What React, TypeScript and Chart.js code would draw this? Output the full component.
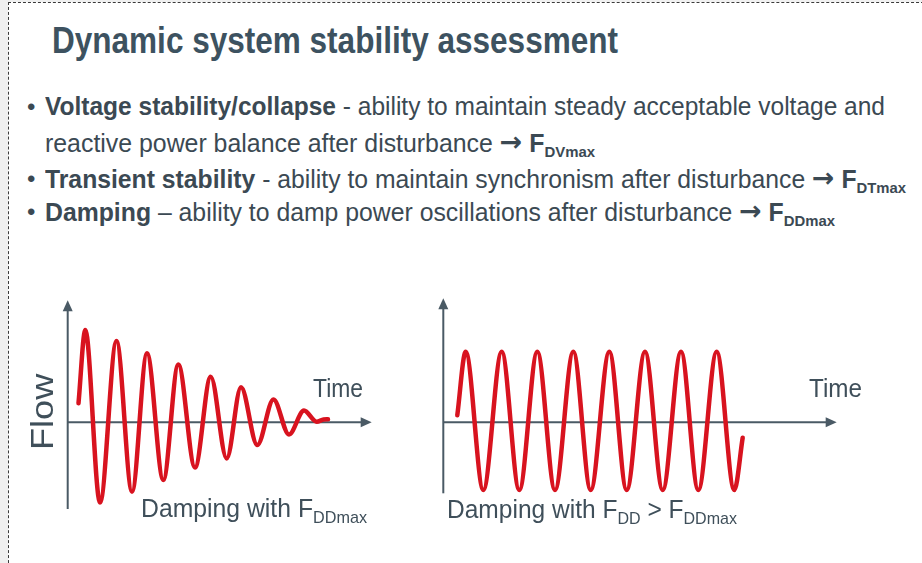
import React, { useEffect, useLayoutEffect, useRef } from 'react';
import { Chart, registerables } from 'chart.js';

Chart.register(...registerables);

// ---- Data (time units, flow units; flow 0 on the time axis) ----
// Left plot: damped oscillation ("Damping with F_DDmax")
const dampedTime = [10.8, 17.6, 32.3, 48.8, 64.3, 79.3, 95.6, 110.6, 127.3, 143, 159, 173.3, 189.6, 205.8, 221.3, 236.3, 249, 255.8, 260.3];
const dampedFlow = [19, 92.3, -80.2, 81.3, -69.4, 69, -57.7, 57.8, -45.2, 45.6, -36.2, 35, -22.7, 22.8, -12.2, 11.8, 0.6, 2.8, 3];

// Right plot: sustained oscillation ("Damping with F_DD > F_DDmax")
const sustainedTime = [14, 22.4, 40, 58.4, 76, 94, 111.7, 130, 147.4, 166, 183.4, 201.7, 219.4, 237.7, 255, 273.4, 291, 299.4];
const sustainedFlow = [7, 70.6, -67.7, 70.6, -67.7, 70.6, -67.7, 70.6, -67.7, 70.6, -67.7, 70.6, -67.7, 70.6, -67.7, 70.6, -67.7, -15.4];

// ---- Texts ----
const titleText = 'Dynamic system stability assessment';
const yAxisLabel = 'Flow';
const xAxisLabel = 'Time';

const FONT = '"Liberation Sans", Arial, Helvetica, sans-serif';
const TITLE_COLOR = '#3d5260';
const TEXT_COLOR = '#3b4953';
const LABEL_COLOR = '#3f4f5a';
const AXIS_COLOR = '#4a5a65';
const CURVE_COLOR = '#d8131f';

const arrowAxes = {
  id: 'arrowAxes',
  beforeDatasetsDraw(chart: any, _args: any, opts: any) {
    const { ctx } = chart;
    const xs = chart.scales.x;
    const ys = chart.scales.y;
    const x0 = xs.getPixelForValue(0);
    const y0 = ys.getPixelForValue(0);
    const xEnd = xs.getPixelForValue(opts.xEnd);
    const yTop = ys.getPixelForValue(opts.yTop);
    const yBot = ys.getPixelForValue(opts.yBottom);
    ctx.save();
    ctx.strokeStyle = opts.color;
    ctx.fillStyle = opts.color;
    ctx.lineWidth = 2;
    ctx.beginPath();
    ctx.moveTo(x0, yBot);
    ctx.lineTo(x0, yTop + 9);
    ctx.stroke();
    ctx.beginPath();
    ctx.moveTo(x0, y0);
    ctx.lineTo(xEnd - 9, y0);
    ctx.stroke();
    ctx.beginPath();
    ctx.moveTo(x0, yTop);
    ctx.lineTo(x0 - 5, yTop + 11);
    ctx.lineTo(x0 + 5, yTop + 11);
    ctx.closePath();
    ctx.fill();
    ctx.beginPath();
    ctx.moveTo(xEnd, y0);
    ctx.lineTo(xEnd - 11, y0 - 5);
    ctx.lineTo(xEnd - 11, y0 + 5);
    ctx.closePath();
    ctx.fill();
    ctx.restore();
  },
};

type OscProps = {
  left: number; top: number; width: number; height: number;
  xMin: number; xMax: number; yMin: number; yMax: number;
  time: number[]; flow: number[];
  xEnd: number; yTop: number; yBottom: number;
};

function OscChart(p: OscProps) {
  const ref = useRef<HTMLCanvasElement>(null);
  useEffect(() => {
    if (!ref.current) return;
    const chart = new Chart(ref.current, {
      type: 'line',
      data: {
        datasets: [
          {
            data: p.time.map((t, i) => ({ x: t, y: p.flow[i] })),
            borderColor: CURVE_COLOR,
            borderWidth: 4.5,
            pointRadius: 0,
            cubicInterpolationMode: 'monotone',
            borderCapStyle: 'round',
            borderJoinStyle: 'round',
            fill: false,
            clip: false,
          } as any,
        ],
      },
      options: {
        animation: false,
        responsive: false,
        maintainAspectRatio: false,
        layout: { padding: 0 },
        events: [],
        scales: {
          x: { type: 'linear', min: p.xMin, max: p.xMax, display: false },
          y: { type: 'linear', min: p.yMin, max: p.yMax, display: false },
        },
        plugins: {
          legend: { display: false },
          tooltip: { enabled: false },
          title: { display: false },
          arrowAxes: { xEnd: p.xEnd, yTop: p.yTop, yBottom: p.yBottom, color: AXIS_COLOR },
        } as any,
      },
      plugins: [arrowAxes],
    });
    return () => chart.destroy();
  }, []);
  return (
    <canvas
      ref={ref}
      width={p.width}
      height={p.height}
      style={{ position: 'absolute', left: p.left, top: p.top, width: p.width, height: p.height }}
    />
  );
}

type FitProps = {
  x: number; baseline: number; width: number; size: number;
  weight?: number | string; color: string; children: React.ReactNode;
};

function FitText({ x, baseline, width, size, weight = 400, color, children }: FitProps) {
  const ref = useRef<HTMLDivElement>(null);
  useLayoutEffect(() => {
    const el = ref.current;
    if (!el) return;
    const fit = () => {
      el.style.transform = 'none';
      const w = el.getBoundingClientRect().width;
      if (w > 0) el.style.transform = `scaleX(${width / w})`;
    };
    fit();
    (document as any).fonts?.ready?.then(fit);
  });
  return (
    <div
      ref={ref}
      style={{
        position: 'absolute',
        left: x,
        top: baseline - 0.8465 * size,
        fontFamily: FONT,
        fontSize: size,
        lineHeight: `${size}px`,
        fontWeight: weight as any,
        color,
        whiteSpace: 'nowrap',
        transformOrigin: '0 0',
      }}
    >
      {children}
    </div>
  );
}

function Sub({ children, size, drop, weight }: { children: React.ReactNode; size: number; drop: number; weight?: number }) {
  return (
    <span style={{ fontSize: size, position: 'relative', top: drop, fontWeight: weight as any }}>{children}</span>
  );
}

function Arrow() {
  return (
    <span style={{ fontFamily: '"DejaVu Sans", sans-serif', fontWeight: 700, fontSize: 27, position: 'relative', top: -1 }}>→</span>
  );
}

function Bullet({ baseline }: { baseline: number }) {
  return (
    <div
      style={{
        position: 'absolute', left: 27, top: baseline - 0.8465 * 24, fontFamily: FONT,
        fontSize: 24, lineHeight: '24px', color: TEXT_COLOR,
      }}
    >
      •
    </div>
  );
}

export default function App() {
  return (
    <div
      style={{
        position: 'absolute', left: 0, top: 0, width: 922, height: 563, overflow: 'hidden',
        background: '#f0f0f0', fontFamily: FONT,
      }}
    >
      <div
        style={{
          position: 'absolute', left: 8, top: 2, width: 930, height: 580, background: '#ffffff',
          borderLeft: '1px dashed #3a3a3a', borderTop: '1px dashed #3a3a3a',
        }}
      />

      <FitText x={52} baseline={53.5} width={566} size={36} weight={700} color={TITLE_COLOR}>
        {titleText}
      </FitText>

      <Bullet baseline={115} />
      <FitText x={45} baseline={115} width={840} size={25} color={TEXT_COLOR}>
        <b>Voltage stability/collapse</b> - ability to maintain steady acceptable voltage and
      </FitText>
      <FitText x={45} baseline={151} width={550} size={25} color={TEXT_COLOR}>
        reactive power balance after disturbance <Arrow /> <b>F</b>
        <Sub size={15} drop={5} weight={700}>DVmax</Sub>
      </FitText>

      <Bullet baseline={187} />
      <FitText x={45} baseline={187} width={861} size={25} color={TEXT_COLOR}>
        <b>Transient stability</b> - ability to maintain synchronism after disturbance <Arrow /> <b>F</b>
        <Sub size={15} drop={5} weight={700}>DTmax</Sub>
      </FitText>

      <Bullet baseline={220} />
      <FitText x={45} baseline={220} width={790} size={25} color={TEXT_COLOR}>
        <b>Damping</b> – ability to damp power oscillations after disturbance <Arrow /> <b>F</b>
        <Sub size={15} drop={5} weight={700}>DDmax</Sub>
      </FitText>

      {/* Left plot */}
      <OscChart
        left={58} top={290} width={322} height={230}
        xMin={-9.7} xMax={312.3} yMin={-97.7} yMax={132.3}
        time={dampedTime} flow={dampedFlow}
        xEnd={304} yTop={122} yBottom={-86.7}
      />
      {/* Flow label (rotated) */}
      <div
        style={{
          position: 'absolute', left: 26, top: 450, fontFamily: FONT, fontSize: 32,
          lineHeight: '32px', color: LABEL_COLOR, whiteSpace: 'nowrap', transformOrigin: '0 0',
          transform: 'rotate(-90deg) scaleX(1.13)',
        }}
      >
        {yAxisLabel}
      </div>
      <FitText x={313} baseline={397} width={50} size={26} color={LABEL_COLOR}>{xAxisLabel}</FitText>
      <FitText x={141} baseline={517.5} width={226} size={26} color={LABEL_COLOR}>
        Damping with F<Sub size={17} drop={6}>DDmax</Sub>
      </FitText>

      {/* Right plot */}
      <OscChart
        left={433} top={290} width={420} height={230}
        xMin={-10.3} xMax={409.7} yMin={-97.7} yMax={132.3}
        time={sustainedTime} flow={sustainedFlow}
        xEnd={393.4} yTop={124} yBottom={-71}
      />
      <FitText x={809} baseline={397} width={53} size={26} color={LABEL_COLOR}>{xAxisLabel}</FitText>
      <FitText x={447} baseline={518} width={290} size={26} color={LABEL_COLOR}>
        Damping with F<Sub size={17} drop={6}>DD</Sub> &gt; F<Sub size={17} drop={6}>DDmax</Sub>
      </FitText>
    </div>
  );
}
